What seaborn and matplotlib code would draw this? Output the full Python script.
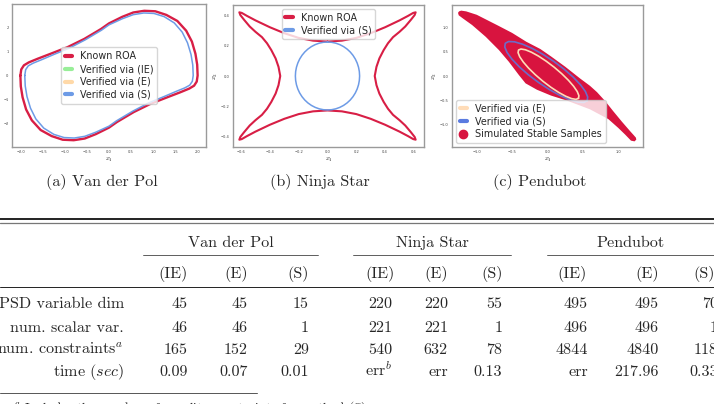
import numpy as np
import matplotlib
matplotlib.use("Agg")
import matplotlib.pyplot as plt
from matplotlib.lines import Line2D
import seaborn as sns

# ---------------- data ----------------
# (a) Van der Pol: upper half of each closed curve, traced left to right.
# The cycle is point-symmetric, so the lower half is the negation.
vdp_known_x = [-2.01, -1.99, -1.93, -1.82, -1.62, -1.32, -0.94, -0.56, -0.18, 0.0,
               0.3, 0.55, 0.8, 1.05, 1.3, 1.55, 1.75, 1.88, 1.96, 2.0, 2.01]
vdp_known_y = [0.0, 0.25, 0.42, 0.54, 0.69, 0.9, 1.17, 1.51, 1.92, 2.15,
               2.42, 2.6, 2.67, 2.65, 2.5, 2.25, 1.85, 1.4, 0.9, 0.45, 0.0]
vdp_s_x = [-1.91, -1.89, -1.83, -1.72, -1.53, -1.26, -0.9, -0.54, -0.17, 0.0,
           0.3, 0.55, 0.79, 1.02, 1.25, 1.48, 1.66, 1.78, 1.86, 1.9, 1.91]
vdp_s_y = [0.0, 0.24, 0.4, 0.51, 0.65, 0.86, 1.13, 1.47, 1.87, 2.09,
           2.34, 2.51, 2.58, 2.56, 2.43, 2.17, 1.79, 1.35, 0.87, 0.43, 0.0]

# (b) Ninja star: first quadrant, from the top waist to the right waist
star_x = [0.0, 0.1, 0.2, 0.3, 0.4, 0.5, 0.56, 0.595, 0.612, 0.605, 0.58, 0.54,
          0.5, 0.455, 0.42, 0.39, 0.36, 0.34, 0.328]
star_y = [0.226, 0.232, 0.25, 0.281, 0.32, 0.365, 0.395, 0.414, 0.418, 0.4, 0.37,
          0.325, 0.29, 0.255, 0.215, 0.17, 0.115, 0.06, 0.0]
circ_x = [0.0, 0.0291, 0.0577, 0.0853, 0.1115, 0.1358, 0.1577, 0.1769, 0.1931,
          0.2060, 0.2154, 0.2211, 0.223]
circ_y = [0.223, 0.2211, 0.2154, 0.2060, 0.1931, 0.1769, 0.1577, 0.1358, 0.1115,
          0.0853, 0.0577, 0.0291, 0.0]

# (c) Pendubot: outline of the simulated stable samples, and the two ellipses
samples_x = [-1.22, -1.15, -1.0, -0.85, -0.7, -0.5, -0.3, -0.1, 0.05, 0.25, 0.46,
             0.6, 0.7, 0.82, 0.93, 1.05, 1.17, 1.22, 1.25, 1.255, 1.23, 1.18,
             1.1, 1.0, 0.86, 0.6, 0.27, 0.05, -0.15, -0.31, -0.405, -0.546,
             -0.687, -0.873, -1.065, -1.2, -1.255, -1.265, -1.25]
samples_y = [1.335, 1.32, 1.25, 1.14, 1.03, 0.88, 0.7, 0.55, 0.40, 0.19, -0.05,
             -0.2, -0.33, -0.52, -0.72, -0.93, -1.13, -1.21, -1.26, -1.3, -1.335,
             -1.32, -1.2, -1.06, -0.88, -0.68, -0.5, -0.40, -0.28, -0.15, 0.02,
             0.29, 0.53, 0.80, 1.04, 1.18, 1.24, 1.29, 1.32]
pend_s_x = [0.561, 0.568, 0.536, 0.466, 0.363, 0.234, 0.088, -0.066, -0.216, -0.352,
            -0.466, -0.550, -0.597, -0.604, -0.572, -0.502, -0.399, -0.270, -0.124,
            0.030, 0.180, 0.316, 0.430, 0.514, 0.561]
pend_s_y = [-0.504, -0.428, -0.317, -0.179, -0.023, 0.140, 0.299, 0.444, 0.563, 0.649,
            0.698, 0.704, 0.668, 0.592, 0.481, 0.343, 0.187, 0.024, -0.135, -0.280,
            -0.399, -0.485, -0.534, -0.540, -0.504]
pend_e_x = [0.438, 0.444, 0.421, 0.370, 0.295, 0.201, 0.094, -0.019, -0.129, -0.229,
            -0.313, -0.375, -0.410, -0.416, -0.393, -0.342, -0.267, -0.173, -0.066,
            0.047, 0.157, 0.257, 0.341, 0.403, 0.438]
pend_e_y = [-0.456, -0.403, -0.319, -0.211, -0.086, 0.047, 0.180, 0.303, 0.408, 0.487,
            0.536, 0.551, 0.530, 0.477, 0.393, 0.285, 0.160, 0.027, -0.106, -0.229,
            -0.334, -0.413, -0.462, -0.477, -0.456]

# table
captions = ["(a) Van der Pol", "(b) Ninja Star", "(c) Pendubot"]
groups = ["Van der Pol", "Ninja Star", "Pendubot"]
methods = ["(IE)", "(E)", "(S)"]
row_labels = ["PSD variable dim", "num. scalar var.", r"num. constraints$^a$",
              r"time ($sec$)"]
vdp_table = [["45", "45", "15"], ["46", "46", "1"], ["165", "152", "29"],
             ["0.09", "0.07", "0.01"]]
ninja_table = [["220", "220", "55"], ["221", "221", "1"], ["540", "632", "78"],
               [r"err$^b$", "err", "0.13"]]
pend_table = [["495", "495", "70"], ["496", "496", "1"], ["4844", "4840", "118"],
              ["err", "217.96", "0.33"]]
footnote = r"$^a$ Includes the number of equality constraints for method (S)."


def mirror_quadrant(qx, qy):
    # closed curve symmetric about both axes, from one traced quadrant
    qx, qy = np.asarray(qx), np.asarray(qy)
    x = np.r_[qx, qx[::-1][1:], -qx[1:], -qx[::-1][1:]]
    y = np.r_[qy, -qy[::-1][1:], -qy[1:], qy[::-1][1:]]
    return x, y


RED = "#d81e45"
BLUE = "#6d9be6"
GREEN = "#98ee98"
ORANGE = "#ffd9a8"
SBLUE = "#5a7be0"
CREAM = "#ffdcb8"

sns.set_style("white")
plt.rcParams["mathtext.fontset"] = "cm"
SERIF = ["cmr10", "DejaVu Serif"]

W, H = 714, 404
fig = plt.figure(figsize=(W / 100, H / 100), dpi=100)


def px(x, y):
    return x / W, 1 - y / H


def make_ax(left, top, right, bottom):
    x0, y1 = px(left, top)
    x1, y0 = px(right, bottom)
    ax = fig.add_axes([x0, y0, x1 - x0, y1 - y0])
    for s in ax.spines.values():
        s.set_color("#9a9a9a")
        s.set_linewidth(1.0)
    ax.tick_params(labelsize=2.6, length=1.5, width=0.4, pad=1, colors="#444444")
    ax.set_xlabel("$x_1$", fontsize=5, labelpad=1)
    ax.set_ylabel("$x_2$", fontsize=5, labelpad=0.3)
    return ax


def leg(ax, handles, labels, loc):
    ax.legend(handles, labels, loc=loc, fontsize=6.9, handlelength=0.8,
              handletextpad=0.8, labelspacing=0.3, borderpad=0.4,
              borderaxespad=0.4, framealpha=0.8)


def swatch(c, lw=3):
    return Line2D([], [], color=c, lw=lw)


# ---- (a) Van der Pol ----
ax = make_ax(12, 4, 206, 147)
kx = np.r_[vdp_known_x, -np.array(vdp_known_x[1:])]
ky = np.r_[vdp_known_y, -np.array(vdp_known_y[1:])]
sx = np.r_[vdp_s_x, -np.array(vdp_s_x[1:])]
sy = np.r_[vdp_s_y, -np.array(vdp_s_y[1:])]
sns.lineplot(x=kx, y=ky, sort=False, estimator=None, color=RED, lw=1.7, ax=ax)
sns.lineplot(x=sx, y=sy, sort=False, estimator=None, color=BLUE, lw=1.1, ax=ax)
ax.set_xlim(-2.2, 2.2)
ax.set_ylim(-2.95, 2.95)
ax.set_xticks(np.arange(-2.0, 2.01, 0.5))
ax.set_yticks([-2, -1, 0, 1, 2])
leg(ax, [swatch(RED), swatch(GREEN), swatch(ORANGE), swatch(BLUE)],
    ["Known ROA", "Verified via (IE)", "Verified via (E)", "Verified via (S)"],
    "center")

# ---- (b) Ninja Star ----
ax = make_ax(233, 5, 424, 147)
nx, ny = mirror_quadrant(star_x, star_y)
cx, cy = mirror_quadrant(circ_x, circ_y)
sns.lineplot(x=nx, y=ny, sort=False, estimator=None, color=RED, lw=1.5, ax=ax)
sns.lineplot(x=cx, y=cy, sort=False, estimator=None, color=BLUE, lw=1.1, ax=ax)
ax.set_xlim(-0.656, 0.67)
ax.set_ylim(-0.466, 0.466)
ax.set_xticks(np.round(np.arange(-0.6, 0.61, 0.2), 1))
ax.set_yticks(np.round(np.arange(-0.4, 0.41, 0.2), 1))
leg(ax, [swatch(RED), swatch(BLUE)], ["Known ROA", "Verified via (S)"],
    "upper center")

# ---- (c) Pendubot ----
ax = make_ax(452, 5, 643, 147)
ax.fill(samples_x, samples_y, color="#d8143f", lw=0, zorder=1)
sns.lineplot(x=pend_s_x, y=pend_s_y, sort=False, estimator=None, color=SBLUE,
             lw=1.2, alpha=0.85, ax=ax)
sns.lineplot(x=pend_e_x, y=pend_e_y, sort=False, estimator=None, color=CREAM,
             lw=1.2, ax=ax)
ax.set_xlim(-1.35, 1.35)
ax.set_ylim(-1.45, 1.45)
ax.set_xticks([-1.0, -0.5, 0.0, 0.5, 1.0])
ax.set_yticks([-1.0, -0.5, 0.0, 0.5, 1.0])
dot = Line2D([], [], color="#d8143f", marker="o", ls="none", markersize=6)
leg(ax, [swatch(CREAM), swatch(SBLUE), dot],
    ["Verified via (E)", "Verified via (S)", "Simulated Stable Samples"],
    "lower left")

# ---------------- captions ----------------
FS = 11.6
for cap, xc in zip(captions, [102, 320, 540]):
    fig.text(*px(xc, 186), cap, ha="center", va="baseline", fontsize=FS,
             family=SERIF)

# ---------------- table ----------------
def hline(x0, x1, y, lw, c="#222222"):
    a, b = px(x0, y)
    d, _ = px(x1, y)
    fig.add_artist(Line2D([a, d], [b, b], color=c, lw=lw,
                          transform=fig.transFigure))


hline(0, W, 219, 1.4)
hline(0, W, 222.5, 0.9, "#777777")
hline(0, W, 287, 0.7)
hline(0, 257, 393.3, 0.7, "#555555")

group_centers = [231, 432, 630]
group_rules = [(143, 318), (353, 511), (547, W + 5)]
method_centers = [[173.3, 235.7, 298.3], [379.7, 435.7, 492.3], [572.3, 647.3, 704]]
value_right = [[188, 248, 309], [392.3, 448, 502.3], [588, 659, 718]]
row_base = [308.3, 331.5, 353.5, 376]

for g, xc, (r0, r1) in zip(groups, group_centers, group_rules):
    fig.text(*px(xc, 246.7), g, ha="center", va="baseline", fontsize=FS,
             family=SERIF)
    hline(r0, r1, 255, 0.6, "#444444")

for centers in method_centers:
    for m, xc in zip(methods, centers):
        fig.text(*px(xc, 278.3), m, ha="center", va="baseline", fontsize=FS,
                 family=SERIF)

for i, lab in enumerate(row_labels):
    fig.text(*px(124, row_base[i]), lab, ha="right", va="baseline", fontsize=FS,
             family=SERIF)
    for tab, rights in zip([vdp_table, ninja_table, pend_table], value_right):
        for v, xr in zip(tab[i], rights):
            fig.text(*px(xr, row_base[i]), v, ha="right", va="baseline",
                     fontsize=FS, family=SERIF)

fig.text(*px(14, 399.5), footnote, ha="left", va="top", fontsize=9.5,
         family=SERIF)

fig.savefig("out.png", dpi=100)
